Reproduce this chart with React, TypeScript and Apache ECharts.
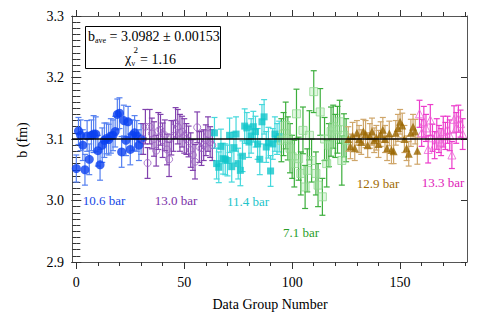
import React, { useEffect, useRef } from 'react';
import * as echarts from 'echarts';

// ---- axis ticks ----
const xMajorTicks = [0, 50, 100, 150];
const xMinorTicks = [0, 10, 20, 30, 40, 50, 60, 70, 80, 90, 100, 110, 120, 130, 140, 150, 160, 170, 180];
const yTickValues = [2.9, 3.0, 3.1, 3.2, 3.3];

// ---- data: 10.6 bar ----
const blueStart = 0;
const blueValues = [3.052, 3.113, 3.106, 3.090, 3.050, 3.105, 3.067, 3.106, 3.108, 3.108, 3.081, 3.058, 3.090, 3.098, 3.101, 3.099, 3.105, 3.106, 3.112, 3.140, 3.142, 3.079, 3.130, 3.098, 3.128, 3.083, 3.106, 3.110, 3.105, 3.090, 3.100];
const blueErrors = [0.022, 0.022, 0.025, 0.025, 0.025, 0.025, 0.025, 0.025, 0.03, 0.028, 0.025, 0.025, 0.028, 0.028, 0.025, 0.025, 0.028, 0.025, 0.025, 0.025, 0.025, 0.025, 0.025, 0.025, 0.025, 0.025, 0.025, 0.028, 0.025, 0.025, 0.025];

// ---- data: 13.0 bar ----
const purpleStart = 31;
const purpleValues = [3.100, 3.120, 3.061, 3.120, 3.109, 3.100, 3.081, 3.113, 3.115, 3.098, 3.106, 3.083, 3.067, 3.102, 3.105, 3.126, 3.120, 3.110, 3.112, 3.105, 3.100, 3.096, 3.082, 3.074, 3.063, 3.119, 3.087, 3.085, 3.090, 3.098, 3.108, 3.095, 3.090];
const purpleErrors = [0.025, 0.028, 0.025, 0.028, 0.025, 0.028, 0.025, 0.03, 0.025, 0.028, 0.025, 0.025, 0.028, 0.028, 0.025, 0.025, 0.028, 0.03, 0.025, 0.028, 0.025, 0.025, 0.028, 0.025, 0.028, 0.025, 0.025, 0.028, 0.025, 0.025, 0.028, 0.025, 0.025];

// ---- data: 11.4 bar ----
const cyanStart = 64;
const cyanValues = [3.110, 3.060, 3.054, 3.088, 3.068, 3.067, 3.065, 3.106, 3.055, 3.086, 3.108, 3.060, 3.049, 3.072, 3.121, 3.118, 3.095, 3.105, 3.120, 3.112, 3.092, 3.067, 3.128, 3.136, 3.087, 3.094, 3.048, 3.092, 3.108, 3.100, 3.104];
const cyanErrors = [0.025, 0.025, 0.025, 0.028, 0.025, 0.025, 0.025, 0.028, 0.025, 0.025, 0.028, 0.025, 0.025, 0.025, 0.028, 0.025, 0.025, 0.028, 0.025, 0.025, 0.025, 0.025, 0.028, 0.028, 0.025, 0.025, 0.025, 0.025, 0.028, 0.025, 0.025];

// ---- data: 7.1 bar ----
const greenStart = 95;
const greenValues = [3.098, 3.108, 3.122, 3.101, 3.085, 3.071, 3.060, 3.141, 3.068, 3.044, 3.114, 3.022, 3.049, 3.106, 3.065, 3.177, 3.044, 3.025, 3.144, 3.006, 3.100, 3.060, 3.090, 3.112, 3.120, 3.105, 3.115, 3.128, 3.065, 3.106, 3.098];
const greenErrors = [0.035, 0.035, 0.038, 0.035, 0.04, 0.035, 0.038, 0.04, 0.035, 0.035, 0.038, 0.035, 0.035, 0.04, 0.035, 0.034, 0.035, 0.035, 0.038, 0.03, 0.035, 0.038, 0.035, 0.04, 0.035, 0.035, 0.038, 0.035, 0.04, 0.035, 0.035];

// ---- data: 12.9 bar ----
const brownStart = 126;
const brownValues = [3.100, 3.088, 3.105, 3.085, 3.110, 3.100, 3.095, 3.112, 3.108, 3.090, 3.105, 3.112, 3.098, 3.102, 3.092, 3.108, 3.115, 3.100, 3.085, 3.109, 3.082, 3.080, 3.110, 3.118, 3.128, 3.122, 3.100, 3.085, 3.076, 3.110, 3.120, 3.112, 3.081];
const brownErrors = [0.02, 0.02, 0.022, 0.02, 0.02, 0.022, 0.02, 0.02, 0.022, 0.02, 0.02, 0.022, 0.02, 0.02, 0.022, 0.02, 0.02, 0.022, 0.02, 0.02, 0.022, 0.02, 0.02, 0.022, 0.02, 0.02, 0.022, 0.02, 0.02, 0.022, 0.02, 0.02, 0.022];

// ---- data: 13.3 bar ----
const magentaStart = 159;
const magentaValues = [3.141, 3.110, 3.128, 3.118, 3.083, 3.131, 3.102, 3.090, 3.108, 3.100, 3.095, 3.112, 3.105, 3.115, 3.106, 3.074, 3.132, 3.118, 3.133, 3.125, 3.108];
const magentaErrors = [0.022, 0.022, 0.025, 0.022, 0.022, 0.025, 0.022, 0.022, 0.025, 0.022, 0.022, 0.025, 0.022, 0.022, 0.025, 0.022, 0.022, 0.025, 0.022, 0.022, 0.025];

const bAve = 3.0982;

const FONT = 'Liberation Serif';

// minor y ticks every 0.01 between the labelled ticks
const yMinorTicks: number[] = [];
for (let k = 290; k <= 330; k++) yMinorTicks.push(k / 100);

function toData(start: number, values: number[], errors: number[]) {
  return values.map((v, i) => [start + i, v, errors[i]]);
}

function errorSeries(data: number[][], color: string) {
  return {
    type: 'custom',
    xAxisIndex: 0,
    yAxisIndex: 0,
    data,
    encode: { x: 0, y: 1 },
    silent: true,
    z: 2,
    renderItem: (params: any, api: any) => {
      const x = api.value(0);
      const y = api.value(1);
      const e = api.value(2);
      const top = api.coord([x, y + e]);
      const bot = api.coord([x, y - e]);
      const cap = 3;
      const style = { stroke: color, lineWidth: 1.2 };
      return {
        type: 'group',
        children: [
          { type: 'line', shape: { x1: top[0], y1: top[1], x2: bot[0], y2: bot[1] }, style },
          { type: 'line', shape: { x1: top[0] - cap, y1: top[1], x2: top[0] + cap, y2: top[1] }, style },
          { type: 'line', shape: { x1: bot[0] - cap, y1: bot[1], x2: bot[0] + cap, y2: bot[1] }, style },
        ],
      };
    },
  };
}

function markerSeries(data: number[][], symbol: string, size: number, itemStyle: any, extra: any = {}) {
  return {
    type: 'scatter',
    xAxisIndex: 0,
    yAxisIndex: 0,
    data: data.map((d) => [d[0], d[1]]),
    symbol,
    symbolSize: size,
    itemStyle,
    z: 3,
    silent: true,
    ...extra,
  };
}

export default function App() {
  const ref = useRef<HTMLDivElement>(null);

  useEffect(() => {
    document.body.style.margin = '0';
    if (!ref.current) return;
    const chart = echarts.init(ref.current, undefined, { renderer: 'svg' });

    const axisColor = '#555';
    const tickColor = '#333';
    const xBase = {
      type: 'value',
      min: -2,
      max: 181,
      gridIndex: 0,
      splitLine: { show: false },
      axisLine: { show: true, onZero: false, lineStyle: { color: axisColor, width: 1 } },
    };
    const yBase = {
      type: 'value',
      min: 2.9,
      max: 3.3,
      interval: 0.1,
      gridIndex: 0,
      splitLine: { show: false },
      axisLine: { show: true, onZero: false, lineStyle: { color: axisColor, width: 1 } },
    };

    const blue = toData(blueStart, blueValues, blueErrors);
    const purple = toData(purpleStart, purpleValues, purpleErrors);
    const cyan = toData(cyanStart, cyanValues, cyanErrors);
    const green = toData(greenStart, greenValues, greenErrors);
    const brown = toData(brownStart, brownValues, brownErrors);
    const magenta = toData(magentaStart, magentaValues, magentaErrors);

    const yAxisSet = (position: string, withLabels: boolean) => [
      {
        ...yBase,
        position,
        axisTick: { show: true, inside: true, length: 6, lineStyle: { color: tickColor } },
        axisLabel: withLabels
          ? {
              show: true,
              margin: 8,
              color: '#000',
              fontFamily: FONT,
              fontSize: 14,
              formatter: (v: number) => v.toFixed(1),
            }
          : { show: false },
      },
      {
        ...yBase,
        position,
        axisLine: { show: false },
        axisTick: { show: true, inside: false, length: 5, lineStyle: { color: tickColor } },
        axisLabel: { show: false },
      },
      {
        ...yBase,
        position,
        axisLine: { show: false },
        axisTick: { show: true, inside: true, customValues: yMinorTicks, length: 4, lineStyle: { color: tickColor } },
        axisLabel: { show: false },
      },
    ];

    const option: any = {
      animation: false,
      backgroundColor: '#fff',
      textStyle: { fontFamily: FONT },
      grid: { left: 72, right: 18, top: 16, bottom: 62, containLabel: false, outerBoundsMode: 'none' },
      xAxis: [
        {
          ...xBase,
          position: 'bottom',
          axisTick: { show: true, customValues: xMajorTicks, length: 7, lineStyle: { color: tickColor } },
          axisLabel: {
            show: true,
            customValues: xMajorTicks,
            margin: 13,
            color: '#000',
            fontFamily: FONT,
            fontSize: 14,
          },
        },
        {
          ...xBase,
          position: 'bottom',
          axisLine: { show: false },
          axisTick: { show: true, customValues: xMinorTicks, length: 4, lineStyle: { color: tickColor } },
          axisLabel: { show: false },
        },
        {
          ...xBase,
          position: 'top',
          axisTick: { show: true, customValues: xMajorTicks, length: 6, lineStyle: { color: tickColor } },
          axisLabel: { show: false },
        },
        {
          ...xBase,
          position: 'top',
          axisLine: { show: false },
          axisTick: { show: true, customValues: xMinorTicks, length: 4, lineStyle: { color: tickColor } },
          axisLabel: { show: false },
        },
      ],
      yAxis: [...yAxisSet('left', true), ...yAxisSet('right', false)],
      series: [
        errorSeries(blue, '#5580f0'),
        errorSeries(purple, '#8040ad'),
        errorSeries(cyan, '#44d8dc'),
        errorSeries(green, '#3cae3c'),
        errorSeries(brown, '#cfa66a'),
        errorSeries(magenta, '#ec3ccb'),
        markerSeries(blue, 'circle', 9, { color: '#0a40f0' }, {
          markLine: {
            silent: true,
            symbol: 'none',
            label: { show: false },
            lineStyle: { color: '#000', width: 1.6, type: 'solid' },
            data: [{ yAxis: bAve }],
            z: 4,
          },
        }),
        markerSeries(purple, 'circle', 7, { color: 'rgba(255,255,255,0)', borderColor: '#9a60c2', borderWidth: 1 }),
        markerSeries(cyan, 'rect', 7, { color: '#12c6ca' }),
        markerSeries(green, 'rect', 8, { color: 'rgba(170,230,170,0.45)', borderColor: '#8fd88f', borderWidth: 1 }),
        markerSeries(brown, 'triangle', 8, { color: '#9a6700' }),
        markerSeries(magenta, 'triangle', 8, { color: 'rgba(255,255,255,0)', borderColor: '#ee60d6', borderWidth: 1 }),
      ],
      graphic: [
        {
          type: 'text',
          x: 22,
          y: 140,
          rotation: Math.PI / 2,
          style: { text: 'b (fm)', fontFamily: FONT, fontSize: 14, fill: '#000', align: 'center', verticalAlign: 'middle' },
        },
        {
          type: 'text',
          x: 270,
          y: 304,
          style: { text: 'Data Group Number', fontFamily: FONT, fontSize: 14, fill: '#000', align: 'center', verticalAlign: 'middle' },
        },
        {
          type: 'rect',
          shape: { x: 85.5, y: 26.5, width: 135, height: 42 },
          style: { fill: '#fff', stroke: '#000', lineWidth: 1 },
          z: 10,
        },
        {
          type: 'text',
          x: 88,
          y: 36,
          z: 11,
          style: {
            text: '{m|b}{s|ave}{m| = 3.0982 ± 0.00153}',
            fill: '#000',
            verticalAlign: 'middle',
            align: 'left',
            rich: {
              m: { fontFamily: FONT, fontSize: 14, lineHeight: 16, fill: '#000' },
              s: { fontFamily: FONT, fontSize: 8, lineHeight: 16, verticalAlign: 'bottom', fill: '#000' },
            },
          },
        },
        { type: 'text', x: 125, y: 58, z: 11, style: { text: 'χ', fontFamily: FONT, fontSize: 14, fill: '#000', verticalAlign: 'middle' } },
        { type: 'text', x: 131.5, y: 63, z: 11, style: { text: 'ν', fontFamily: FONT, fontSize: 8, fill: '#000', verticalAlign: 'middle' } },
        { type: 'text', x: 133.5, y: 50, z: 11, style: { text: '2', fontFamily: FONT, fontSize: 9, fill: '#000', verticalAlign: 'middle' } },
        { type: 'text', x: 140, y: 59, z: 11, style: { text: '= 1.16', fontFamily: FONT, fontSize: 14, fill: '#000', verticalAlign: 'middle' } },
        { type: 'text', x: 104, y: 200, style: { text: '10.6 bar', fontFamily: FONT, fontSize: 13, fill: '#1446e6', align: 'center', verticalAlign: 'middle' } },
        { type: 'text', x: 176, y: 200, style: { text: '13.0 bar', fontFamily: FONT, fontSize: 13, fill: '#7a30a8', align: 'center', verticalAlign: 'middle' } },
        { type: 'text', x: 248, y: 201, style: { text: '11.4 bar', fontFamily: FONT, fontSize: 13, fill: '#22c4ca', align: 'center', verticalAlign: 'middle' } },
        { type: 'text', x: 301, y: 232, style: { text: '7.1 bar', fontFamily: FONT, fontSize: 13, fill: '#2a9e2a', align: 'center', verticalAlign: 'middle' } },
        { type: 'text', x: 378, y: 183, style: { text: '12.9 bar', fontFamily: FONT, fontSize: 13, fill: '#a06a00', align: 'center', verticalAlign: 'middle' } },
        { type: 'text', x: 443, y: 182, style: { text: '13.3 bar', fontFamily: FONT, fontSize: 13, fill: '#e020b8', align: 'center', verticalAlign: 'middle' } },
      ],
    };

    chart.setOption(option);
    return () => {
      chart.dispose();
    };
  }, []);

  return <div ref={ref} style={{ width: 485, height: 324 }} />;
}
